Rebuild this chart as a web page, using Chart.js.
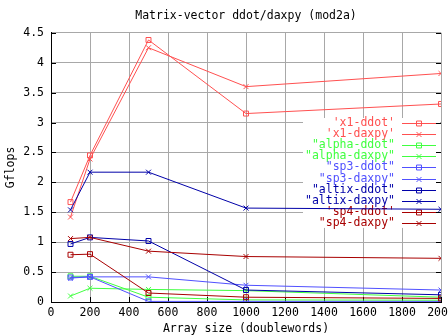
<!DOCTYPE html>
<html>
<head>
<meta charset="utf-8">
<script src="https://cdn.jsdelivr.net/npm/chart.js@4/dist/chart.umd.min.js"></script>
<style>
  html, body { margin: 0; padding: 0; background: #fff; overflow: hidden; }
  #wrap { width: 448px; height: 336px; overflow: hidden; }
</style>
</head>
<body>
<div id="wrap"><canvas id="chart" width="470" height="336"></canvas></div>
<script>
// array sizes (doublewords)
const sizes = [100, 200, 500, 1000, 2000];

// Gflops per machine / kernel
const x1Ddot      = [1.67, 2.45, 4.38, 3.15, 3.31];
const x1Daxpy     = [1.42, 2.39, 4.25, 3.60, 3.82];
const alphaDdot   = [0.43, 0.43, 0.08, 0.035, 0.03];
const alphaDaxpy  = [0.10, 0.23, 0.21, 0.19, 0.08];
const sp3Ddot     = [0.41, 0.42, 0.01, 0.01, 0.01];
const sp3Daxpy    = [0.40, 0.42, 0.42, 0.28, 0.20];
const altixDdot   = [0.97, 1.08, 1.02, 0.20, 0.12];
const altixDaxpy  = [1.54, 2.17, 2.17, 1.57, 1.55];
const sp4Ddot     = [0.79, 0.80, 0.15, 0.08, 0.06];
const sp4Daxpy    = [1.06, 1.08, 0.85, 0.76, 0.73];

const labels = ["'x1-ddot'", "'x1-daxpy'", '"alpha-ddot"', '"alpha-daxpy"',
  '"sp3-ddot"', '"sp3-daxpy"', '"altix-ddot"', '"altix-daxpy"', "'sp4-ddot'", '"sp4-daxpy"'];
const series = [x1Ddot, x1Daxpy, alphaDdot, alphaDaxpy, sp3Ddot, sp3Daxpy,
  altixDdot, altixDaxpy, sp4Ddot, sp4Daxpy];
const colors = ['#ff5050', '#ff5050', '#40ff40', '#40ff40', '#5050ff', '#5050ff',
  '#0000a8', '#0000a8', '#a80000', '#a80000'];

const FONT = "'DejaVu Sans Mono', monospace";

function makeDataset(i) {
    return {
        label: labels[i],
        data: series[i].map((v, j) => ({ x: sizes[j], y: v })),
        borderColor: colors[i],
        backgroundColor: colors[i],
        borderWidth: 1,
        pointStyle: i % 2 === 0 ? 'rect' : 'crossRot',
        pointRadius: 3.5,
        pointBorderWidth: 1,
        pointBackgroundColor: 'transparent',
        pointBorderColor: colors[i],
        tension: 0,
        order: series.length - i
    };
}

// key box inside the plot, drawn under the lines
const keyBox = {
    id: 'keyBox',
    beforeDatasetsDraw(chart) {
        const ctx = chart.ctx;
        const area = chart.chartArea;
        const sets = chart.data.datasets;
        const top = 123, step = 11.1;
        ctx.save();
        ctx.fillStyle = '#fff';
        ctx.fillRect(303, top - 5, area.right - 304, step * (sets.length - 1) + 10);

        // inward tick marks on left, right and bottom
        const xs = chart.scales.x, ys = chart.scales.y;
        ctx.strokeStyle = '#000';
        ctx.lineWidth = 1;
        ctx.beginPath();
        xs.ticks.forEach(t => {
            const px = Math.round(xs.getPixelForValue(t.value)) + 0.5;
            ctx.moveTo(px, area.bottom);
            ctx.lineTo(px, area.bottom - 5);
        });
        ys.ticks.forEach(t => {
            const py = Math.round(ys.getPixelForValue(t.value)) + 0.5;
            ctx.moveTo(area.left, py);
            ctx.lineTo(area.left + 5, py);
            ctx.moveTo(area.right, py);
            ctx.lineTo(area.right - 5, py);
        });
        ctx.stroke();

        ctx.font = '11.5px ' + FONT;
        ctx.textAlign = 'right';
        ctx.textBaseline = 'middle';
        sets.forEach((ds, i) => {
            const y = Math.round(top + i * step) + 0.5;
            ctx.fillStyle = ds.borderColor;
            ctx.fillText(ds.label, area.right - 46, y);
            ctx.strokeStyle = ds.borderColor;
            ctx.beginPath();
            ctx.moveTo(area.right - 39, y);
            ctx.lineTo(area.right - 5, y);
            ctx.stroke();
            ctx.fillStyle = 'rgba(0,0,0,0)';
            Chart.helpers.drawPoint(ctx, {
                pointStyle: ds.pointStyle, radius: 3.5, borderWidth: 1, rotation: 0
            }, area.right - 22, y);
        });
        ctx.restore();
    }
};

new Chart(document.getElementById('chart'), {
    type: 'line',
    data: { datasets: series.map((_, i) => makeDataset(i)) },
    plugins: [keyBox],
    options: {
        responsive: false,
        animation: false,
        layout: { padding: { left: 0, right: 29, top: 0, bottom: 0 } },
        plugins: {
            legend: { display: false },
            tooltip: { enabled: false },
            title: {
                display: true,
                fullSize: false,
                text: 'Matrix-vector ddot/daxpy (mod2a)',
                color: '#000',
                font: { family: FONT, size: 11.5, weight: 'normal' },
                padding: { top: 9, bottom: 10 }
            }
        },
        scales: {
            x: {
                type: 'linear',
                min: 0,
                max: 2000,
                afterFit: function(scale) { scale.height = 34; },
                grid: { color: '#a8a8a8', drawTicks: false },
                border: { color: '#000', width: 1 },
                ticks: {
                    stepSize: 200,
                    color: '#000',
                    padding: 4,
                    maxRotation: 0,
                    autoSkip: false,
                    font: { family: FONT, size: 11.5 },
                    callback: function(value) { return String(value); }
                },
                title: {
                    display: true,
                    text: 'Array size (doublewords)',
                    color: '#000',
                    font: { family: FONT, size: 11.5 },
                    padding: { top: 0, bottom: 0 }
                }
            },
            y: {
                min: 0,
                max: 4.5,
                afterFit: function(scale) { scale.width = 51; },
                grid: { color: '#a8a8a8', drawTicks: false },
                border: { color: '#000', width: 1 },
                ticks: {
                    stepSize: 0.5,
                    color: '#000',
                    padding: 7,
                    font: { family: FONT, size: 11.5 },
                    callback: function(value) { return String(value); }
                },
                title: {
                    display: true,
                    text: 'Gflops',
                    color: '#000',
                    font: { family: FONT, size: 11.5 },
                    padding: { top: 4, bottom: 0 }
                }
            }
        }
    }
});
</script>
</body>
</html>
